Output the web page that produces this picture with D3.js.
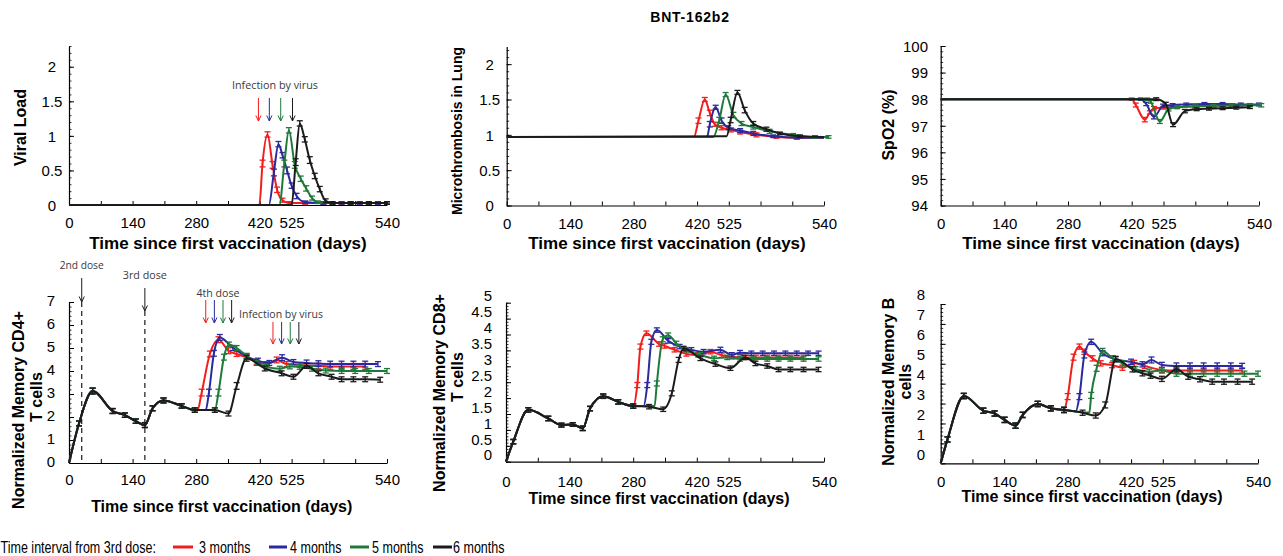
<!DOCTYPE html>
<html><head><meta charset="utf-8">
<script src="https://cdn.jsdelivr.net/npm/d3@7"></script>
<style>
body{margin:0;background:#fff;}
svg{display:block;}
</style></head><body>
<svg id="chart" width="1283" height="556"></svg>
<script>
// ---------------- DATA ----------------
const seriesNames = ["3 months", "4 months", "5 months", "6 months"];
const xTickVals = [0, 70, 140, 210, 280, 350, 420, 490, 560, 630, 700];
const xLabelVals = [0, 140, 280, 420, 490, 700];
const xLabelText = ["0", "140", "280", "420", "525", "540"];

const viralTicks = [0, 0.5, 1, 1.5, 2];
const lungTicks = [0, 0.5, 1, 1.5, 2];
const spo2Ticks = [94, 95, 96, 97, 98, 99, 100];
const cd4Ticks = [0, 1, 2, 3, 4, 5, 6, 7];
const cd8Ticks = [0, 0.5, 1, 1.5, 2, 2.5, 3, 3.5, 4, 4.5, 5];
const bTicks = [0, 1, 2, 3, 4, 5, 6, 7, 8];

// [day, value, error]
const viralRed = [[0,0,0],[419,0,0],[426,0.6,0.04],[437,1.02,0.03],[448,0.58,0.04],[458,0.22,0.03],[470,0.07,0.02],[485,0.03,0.01],[520,0.03,0.01],[560,0.03,0.01],[600,0.03,0.01],[640,0.03,0.01],[680,0.03,0.01],[700,0.03,0.01]];
const viralBlue = [[0,0,0],[440,0,0],[451,0.47,0.04],[461,0.88,0.03],[470,0.72,0.03],[480,0.5,0.04],[490,0.28,0.03],[501,0.13,0.03],[520,0.04,0.01],[560,0.03,0.01],[600,0.03,0.01],[640,0.03,0.01],[680,0.03,0.01],[700,0.03,0.01]];
const viralGreen = [[0,0,0],[463,0,0],[474,0.6,0.04],[484,1.08,0.03],[497,0.58,0.04],[510,0.38,0.03],[522,0.24,0.03],[535,0.1,0.02],[548,0.04,0.01],[580,0.03,0.01],[620,0.03,0.01],[660,0.03,0.01],[700,0.03,0.01]];
const viralBlack = [[0,0,0],[490,0,0],[499,0.62,0.04],[508,1.18,0.03],[519,0.95,0.03],[530,0.65,0.04],[541,0.42,0.03],[552,0.23,0.03],[565,0.06,0.02],[580,0.03,0.01],[620,0.03,0.01],[660,0.03,0.01],[700,0.03,0.01]];

const lungRed = [[0,0.97,0],[413,0.97,0],[423,1.2,0.03],[437,1.5,0.02],[448,1.31,0.03],[459,1.15,0.02],[474,1.1,0.02],[495,1.07,0.02],[515,1.04,0.02],[551,1.0,0.02],[595,0.97,0.01],[640,0.96,0.01],[700,0.96,0]];
const lungBlue = [[0,0.97,0],[442,0.97,0],[448,1.15,0.03],[461,1.39,0.02],[474,1.2,0.03],[489,1.1,0.02],[515,1.06,0.02],[544,1.02,0.02],[588,0.98,0.01],[640,0.96,0.01],[700,0.96,0]];
const lungGreen = [[0,0.97,0],[456,0.97,0],[469,1.21,0.03],[483,1.57,0.02],[500,1.28,0.03],[518,1.16,0.02],[544,1.11,0.02],[580,1.05,0.02],[632,1.0,0.01],[680,0.97,0.01],[710,0.97,0.01]];
const lungBlack = [[0,0.97,0],[485,0.98,0],[494,1.21,0.03],[509,1.6,0.02],[525,1.35,0.03],[544,1.16,0.02],[573,1.08,0.02],[603,1.02,0.01],[647,0.98,0.01],[700,0.97,0]];

const spo2Red = [[0,98,0],[420,98,0.02],[429,97.78,0.05],[449,97.23,0.06],[460,97.5,0.04],[469,97.66,0.04],[490,97.68,0.03],[520,97.7,0.03],[560,97.73,0.03],[600,97.75,0.03],[640,97.77,0.03],[680,97.78,0.03]];
const spo2Blue = [[0,98,0],[440,98,0.02],[452,97.82,0.04],[469,97.33,0.05],[489,97.75,0.04],[510,97.78,0.03],[540,97.8,0.03],[580,97.82,0.03],[620,97.82,0.03],[660,97.8,0.03],[700,97.8,0.03]];
const spo2Green = [[0,98,0],[454,98,0.02],[462,97.9,0.03],[482,97.16,0.05],[501,97.62,0.04],[520,97.7,0.03],[560,97.73,0.03],[600,97.75,0.03],[640,97.76,0.03],[680,97.77,0.03],[705,97.77,0.04]];
const spo2Black = [[0,98,0],[474,98,0.03],[495,97.82,0.04],[511,97.04,0.05],[537,97.55,0.04],[563,97.62,0.03],[590,97.64,0.03],[620,97.66,0.03],[650,97.68,0.03],[680,97.7,0.03]];

const cd4Common = [[0,0,0],[22,1.72,0.08],[52,3.13,0.1],[96,2.26,0.08],[123,2.08,0.07],[147,1.82,0.07],[167,1.65,0.08],[184,2.38,0.08],[208,2.72,0.08],[248,2.48,0.07],[277,2.3,0.07]];
const cd4Red = [[283,2.3,0],[292,3.06,0.12],[310,4.74,0.1],[329,5.36,0.1],[351,4.88,0.1],[369,4.74,0.08],[391,4.6,0.08],[413,4.4,0.08],[435,4.3,0.08],[457,4.48,0.1],[479,4.3,0.08],[508,4.26,0.08],[549,4.22,0.1],[575,4.2,0.1],[600,4.2,0.1],[626,4.2,0.1],[652,4.2,0.1]];
const cd4Blue = [[301,2.3,0],[308,3.06,0.12],[319,4.77,0.1],[332,5.46,0.1],[361,5.0,0.08],[391,4.64,0.08],[416,4.45,0.08],[441,4.35,0.08],[469,4.58,0.1],[494,4.39,0.08],[523,4.35,0.1],[549,4.32,0.1],[575,4.3,0.1],[600,4.3,0.1],[626,4.3,0.1],[652,4.3,0.1],[680,4.3,0.08]];
const cd4Green = [[321,2.3,0.07],[329,3.06,0.12],[341,4.6,0.1],[352,5.15,0.08],[369,5.0,0.08],[391,4.66,0.08],[413,4.35,0.08],[435,4.18,0.08],[464,4.1,0.08],[486,4.2,0.08],[508,4.18,0.08],[535,4.1,0.08],[565,4.02,0.08],[600,4.0,0.08],[630,4.0,0.08],[660,4.0,0.08],[700,4.0,0.08]];
const cd4Black = [[321,2.3,0.07],[351,2.15,0.08],[369,3.35,0.12],[391,4.55,0.1],[431,4.11,0.08],[468,3.9,0.08],[494,3.75,0.08],[523,4.22,0.08],[549,3.9,0.08],[578,3.75,0.08],[600,3.64,0.08],[626,3.64,0.08],[652,3.64,0.08],[685,3.62,0.08]];

const cd8Common = [[0,0,0],[16,0.63,0.05],[49,1.63,0.05],[93,1.36,0.05],[122,1.15,0.04],[147,1.17,0.04],[169,1.05,0.05],[185,1.67,0.05],[214,2.06,0.05],[247,1.88,0.05],[280,1.75,0.05]];
const cd8Red = [[289,2.41,0.06],[296,3.62,0.06],[309,4.04,0.05],[337,3.7,0.05],[349,3.64,0.05],[371,3.52,0.05],[397,3.39,0.05],[423,3.36,0.05],[450,3.46,0.05],[475,3.35,0.05],[497,3.3,0.05],[523,3.28,0.05],[550,3.28,0.05],[575,3.28,0.05],[600,3.28,0.05],[626,3.28,0.05],[655,3.28,0.05]];
const cd8Blue = [[303,1.75,0],[311,2.41,0.06],[320,3.77,0.06],[332,4.14,0.05],[357,3.8,0.05],[382,3.62,0.05],[408,3.52,0.05],[435,3.46,0.05],[472,3.52,0.06],[497,3.36,0.05],[515,3.43,0.05],[540,3.41,0.05],[565,3.41,0.05],[590,3.41,0.05],[615,3.41,0.05],[640,3.41,0.05],[665,3.41,0.05],[688,3.41,0.05]];
const cd8Green = [[327,1.75,0],[332,2.46,0.06],[345,3.85,0.06],[357,3.98,0.05],[375,3.72,0.05],[397,3.52,0.05],[428,3.36,0.05],[458,3.25,0.05],[487,3.28,0.05],[515,3.23,0.05],[545,3.23,0.05],[575,3.23,0.05],[600,3.23,0.05],[626,3.23,0.05],[655,3.23,0.05],[688,3.23,0.05]];
const cd8Black = [[315,1.73,0.05],[346,1.65,0.05],[365,2.15,0.06],[380,3.2,0.06],[391,3.56,0.05],[428,3.25,0.05],[461,3.07,0.05],[494,2.94,0.05],[527,3.28,0.05],[549,3.09,0.05],[575,3.01,0.05],[600,2.9,0.05],[626,2.9,0.05],[655,2.9,0.05],[688,2.9,0.05]];

const bCommon = [[0,0,0],[15,1.2,0.1],[51,3.38,0.1],[94,2.64,0.1],[119,2.5,0.1],[141,2.18,0.1],[165,1.89,0.1],[181,2.43,0.1],[214,2.98,0.1],[243,2.76,0.1],[272,2.68,0.1]];
const bRed = [[280,3.35,0.12],[293,5.33,0.12],[306,5.86,0.1],[317,5.6,0.1],[335,5.27,0.1],[353,5.02,0.1],[378,4.93,0.1],[401,4.8,0.1],[427,5.02,0.12],[450,4.89,0.1],[488,4.69,0.1],[520,4.66,0.1],[550,4.66,0.1],[580,4.66,0.1],[610,4.66,0.1],[640,4.66,0.1],[665,4.66,0.1]];
const bBlue = [[298,2.62,0],[306,3.35,0.12],[317,5.44,0.12],[332,6.1,0.1],[357,5.53,0.1],[386,5.22,0.1],[420,5.1,0.1],[445,4.97,0.1],[465,5.19,0.12],[488,4.94,0.1],[520,4.89,0.12],[550,4.89,0.12],[580,4.89,0.12],[610,4.89,0.12],[640,4.89,0.12],[665,4.89,0.1]];
const bGreen = [[328,2.55,0],[332,3.41,0.12],[344,4.77,0.12],[357,5.64,0.1],[380,5.27,0.1],[401,5.02,0.1],[430,4.72,0.1],[460,4.6,0.1],[488,4.66,0.1],[520,4.5,0.1],[550,4.5,0.1],[580,4.5,0.1],[610,4.5,0.1],[640,4.5,0.1],[670,4.5,0.1],[700,4.5,0.1]];
const bBlack = [[313,2.54,0.1],[342,2.4,0.1],[363,2.93,0.12],[386,5.24,0.1],[423,4.72,0.1],[445,4.52,0.1],[463,4.4,0.1],[488,4.24,0.1],[520,4.72,0.1],[546,4.35,0.1],[572,4.22,0.1],[599,4.1,0.1],[625,4.1,0.1],[655,4.1,0.1],[687,4.1,0.1]];

// annotation days
const viralInfectionDays = [417, 441, 466, 492];
const doseDays = [28, 167];
const doseLabels = ["2nd dose", "3rd dose"];
const fourthDoseDays = [301, 320, 339, 358];
const cd4InfectionDays = [449, 468, 487, 506];

// ---------------- STYLE / LAYOUT ----------------
const COLORS = ["#f21d1d", "#2a2a9e", "#1f7a3a", "#1b1b1b"];
const FONT = '"Liberation Sans", Arial, Helvetica, sans-serif';
const ANNOT_FONT = '"Open Sans", "Noto Sans", sans-serif';
const ANNOT_COLOR = "#3a3a3a";

const panels = [
  {x0:69, x1:387, yb:205, yt:46, dom:[0,2.3], ticks:viralTicks, minor:0.1, anchor:"middle", labX:-17, labDy:0, xPad:12.7,
   series:[viralRed, viralBlue, viralGreen, viralBlack],
   yTitle:[["Viral Load", 20.7, 127.5, 16]], xTitle:[228, 243, 17]},
  {x0:506.7, x1:824, yb:205.5, yt:46.5, dom:[0,2.25], ticks:lungTicks, minor:0.1, anchor:"middle", labX:-17, labDy:0, xPad:12.5,
   series:[lungRed, lungBlue, lungGreen, lungBlack],
   yTitle:[["Microthrombosis in Lung", 456.7, 131, 14]], xTitle:[667, 243, 17]},
  {x0:940.7, x1:1259, yb:205.5, yt:46, dom:[94,100], ticks:spo2Ticks, minor:0.2, anchor:"end", labX:-12.7, labDy:0, xPad:12.5,
   series:[spo2Red, spo2Blue, spo2Green, spo2Black],
   yTitle:[["SpO2 (%)", 888.3, 125, 16]], xTitle:[1101, 243, 17]},
  {x0:69, x1:387, yb:463, yt:302, dom:[0,7], ticks:cd4Ticks, minor:0.2, anchor:"end", labX:-14, labDy:-2, xPad:11.7,
   series:[cd4Common.concat(cd4Red), cd4Common.concat(cd4Blue), cd4Common.concat(cd4Green), cd4Common.concat(cd4Black)],
   yTitle:[["Normalized Memory CD4+", 18.3, 410, 16], ["T cells", 36, 397, 16]], xTitle:[221.7, 506, 16]},
  {x0:506, x1:824, yb:461.7, yt:302.7, dom:[0,5], ticks:cd8Ticks, minor:0.1, anchor:"end", labX:-14, labDy:-7, xPad:14.7,
   series:[cd8Common.concat(cd8Red), cd8Common.concat(cd8Blue), cd8Common.concat(cd8Green), cd8Common.concat(cd8Black)],
   yTitle:[["Normalized Memory CD8+", 439, 393, 16], ["T cells", 457.3, 377, 16]], xTitle:[659, 498.3, 16]},
  {x0:940.7, x1:1258, yb:463.3, yt:304, dom:[0,8], ticks:bTicks, minor:0.2, anchor:"end", labX:-15.7, labDy:-9.5, xPad:13,
   series:[bCommon.concat(bRed), bCommon.concat(bBlue), bCommon.concat(bGreen), bCommon.concat(bBlack)],
   yTitle:[["Normalized Memory B", 888.3, 381.7, 16], ["cells", 905, 381.7, 16]], xTitle:[1092, 496.7, 16]}
];

const svg = d3.select("#chart");

function arrow(g, x, y1, y2, color) {
  g.append("line").attr("x1", x).attr("x2", x).attr("y1", y1).attr("y2", y2)
    .attr("stroke", color).attr("stroke-width", 1);
  g.append("path").attr("d", `M${x-2.6},${y2-5.5}L${x},${y2}L${x+2.6},${y2-5.5}`)
    .attr("fill", "none").attr("stroke", color).attr("stroke-width", 1);
}

const scales = [];
panels.forEach((p, pi) => {
  const x = d3.scaleLinear().domain([0, 700]).range([p.x0, p.x1]);
  const y = d3.scaleLinear().domain(p.dom).range([p.yb, p.yt]);
  scales.push({x, y});
  const g = svg.append("g");

  // minor y ticks
  const minor = d3.range(p.dom[0], p.dom[1] + 1e-9, p.minor);
  g.append("g").attr("transform", `translate(${p.x0},0)`)
    .call(d3.axisLeft(y).tickValues(minor).tickSizeInner(-2.5).tickSizeOuter(0).tickFormat(""))
    .call(s => s.select(".domain").remove())
    .call(s => s.selectAll("line").attr("stroke", "#000").attr("stroke-width", 0.8));

  // major y ticks + labels
  const ya = g.append("g").attr("transform", `translate(${p.x0},0)`)
    .call(d3.axisLeft(y).tickValues(p.ticks).tickSizeInner(-5).tickSizeOuter(0).tickFormat(d => String(d)))
    .attr("font-family", FONT).attr("font-size", 15);
  ya.select(".domain").attr("stroke", "#000").attr("stroke-width", 1.2);
  ya.selectAll(".tick line").attr("stroke", "#000").attr("stroke-width", 1);
  ya.selectAll(".tick text").attr("x", p.labX).attr("text-anchor", p.anchor)
    .attr("dy", "0.35em").attr("y", p.labDy).attr("fill", "#000");

  // x axis
  const xa = g.append("g").attr("transform", `translate(0,${p.yb})`)
    .call(d3.axisBottom(x).tickValues(xTickVals).tickSizeInner(-4).tickSizeOuter(0).tickPadding(p.xPad)
      .tickFormat(d => { const i = xLabelVals.indexOf(d); return i >= 0 ? xLabelText[i] : ""; }))
    .attr("font-family", FONT).attr("font-size", 15);
  xa.select(".domain").attr("stroke", "#000").attr("stroke-width", 1.2);
  xa.selectAll(".tick line").attr("stroke", "#000").attr("stroke-width", 1);
  xa.selectAll(".tick text").attr("fill", "#000");

  // titles
  p.yTitle.forEach(t => {
    svg.append("text").attr("transform", `translate(${t[1]},${t[2]}) rotate(-90)`)
      .attr("text-anchor", "middle").attr("dy", "0.35em")
      .attr("font-family", FONT).attr("font-weight", "bold").attr("font-size", t[3])
      .text(t[0]);
  });
  svg.append("text").attr("x", p.xTitle[0]).attr("y", p.xTitle[1]).attr("dy", "0.35em")
    .attr("text-anchor", "middle").attr("font-family", FONT).attr("font-weight", "bold").attr("font-size", p.xTitle[2])
    .text("Time since first vaccination (days)");

  // series
  const line = d3.line().x(d => x(d[0])).y(d => y(d[1])).curve(d3.curveMonotoneX);
  p.series.forEach((s, si) => {
    const sg = g.append("g");
    sg.append("path").datum(s).attr("d", line).attr("fill", "none")
      .attr("stroke", COLORS[si]).attr("stroke-width", 2);
    const eb = s.filter(d => d[2] > 0);
    const bars = sg.selectAll("g.eb").data(eb).join("g").attr("class", "eb")
      .attr("stroke", COLORS[si]).attr("stroke-width", 1.3);
    bars.append("line").attr("x1", d => x(d[0])).attr("x2", d => x(d[0]))
      .attr("y1", d => y(d[1] - d[2]) + 0.6).attr("y2", d => y(d[1] + d[2]) - 0.6);
    bars.append("line").attr("x1", d => x(d[0]) - 3).attr("x2", d => x(d[0]) + 3)
      .attr("y1", d => y(d[1] + d[2]) - 0.6).attr("y2", d => y(d[1] + d[2]) - 0.6);
    bars.append("line").attr("x1", d => x(d[0]) - 3).attr("x2", d => x(d[0]) + 3)
      .attr("y1", d => y(d[1] - d[2]) + 0.6).attr("y2", d => y(d[1] - d[2]) + 0.6);
  });
});

// ---------------- ANNOTATIONS ----------------
const ann = svg.append("g");
// Viral load panel
{
  const {x} = scales[0];
  viralInfectionDays.forEach((d, i) => arrow(ann, x(d), 98, 121, COLORS[i]));
  ann.append("text").attr("x", 275).attr("y", 85).attr("dy", "0.35em").attr("text-anchor", "middle")
    .attr("font-family", ANNOT_FONT).attr("font-size", 11).attr("fill", ANNOT_COLOR)
    .attr("textLength", 86).attr("lengthAdjust", "spacingAndGlyphs").text("Infection by virus");
}
// CD4 panel
{
  const {x} = scales[3];
  const p = panels[3];
  const doseTextY = [265, 275], doseArrowY = [[278, 302], [288, 311]];
  doseDays.forEach((d, i) => {
    arrow(ann, x(d), doseArrowY[i][0], doseArrowY[i][1], "#1b1b1b");
    ann.append("line").attr("x1", x(d)).attr("x2", x(d)).attr("y1", doseArrowY[i][1]).attr("y2", p.yb)
      .attr("stroke", "#1b1b1b").attr("stroke-width", 1.2).attr("stroke-dasharray", "5,4");
    ann.append("text").attr("x", x(d)).attr("y", doseTextY[i]).attr("dy", "0.35em").attr("text-anchor", "middle")
      .attr("font-family", ANNOT_FONT).attr("font-size", 11).attr("fill", ANNOT_COLOR)
      .attr("textLength", 44).attr("lengthAdjust", "spacingAndGlyphs").text(doseLabels[i]);
  });
  fourthDoseDays.forEach((d, i) => arrow(ann, x(d), 300, 323, COLORS[i]));
  ann.append("text").attr("x", 218).attr("y", 293).attr("dy", "0.35em").attr("text-anchor", "middle")
    .attr("font-family", ANNOT_FONT).attr("font-size", 11).attr("fill", ANNOT_COLOR)
    .attr("textLength", 43).attr("lengthAdjust", "spacingAndGlyphs").text("4th dose");
  cd4InfectionDays.forEach((d, i) => arrow(ann, x(d), 322, 344, COLORS[i]));
  ann.append("text").attr("x", 281).attr("y", 314).attr("dy", "0.35em").attr("text-anchor", "middle")
    .attr("font-family", ANNOT_FONT).attr("font-size", 11).attr("fill", ANNOT_COLOR)
    .attr("textLength", 84).attr("lengthAdjust", "spacingAndGlyphs").text("Infection by virus");
}

// ---------------- TITLE ----------------
svg.append("text").attr("x", 690).attr("y", 17).attr("dy", "0.35em").attr("text-anchor", "middle")
  .attr("font-family", FONT).attr("font-weight", "bold").attr("font-size", 14).attr("letter-spacing", 0.8)
  .text("BNT-162b2");

// ---------------- LEGEND ----------------
const leg = svg.append("g").attr("font-family", FONT).attr("font-size", 16.5);
leg.append("text").attr("transform", "translate(156,547) scale(0.76,1)").attr("dy", "0.35em")
  .attr("text-anchor", "end").text("Time interval from 3rd dose:");
const legLineX = [[173, 193], [269, 287], [350, 369], [433, 452]];
const legTextX = [199, 290, 372, 453];
seriesNames.forEach((n, i) => {
  leg.append("line").attr("x1", legLineX[i][0]).attr("x2", legLineX[i][1]).attr("y1", 547).attr("y2", 547)
    .attr("stroke", COLORS[i]).attr("stroke-width", 3);
  leg.append("text").attr("transform", `translate(${legTextX[i]},547) scale(0.76,1)`).attr("dy", "0.35em")
    .text(n);
});
</script>
</body></html>
